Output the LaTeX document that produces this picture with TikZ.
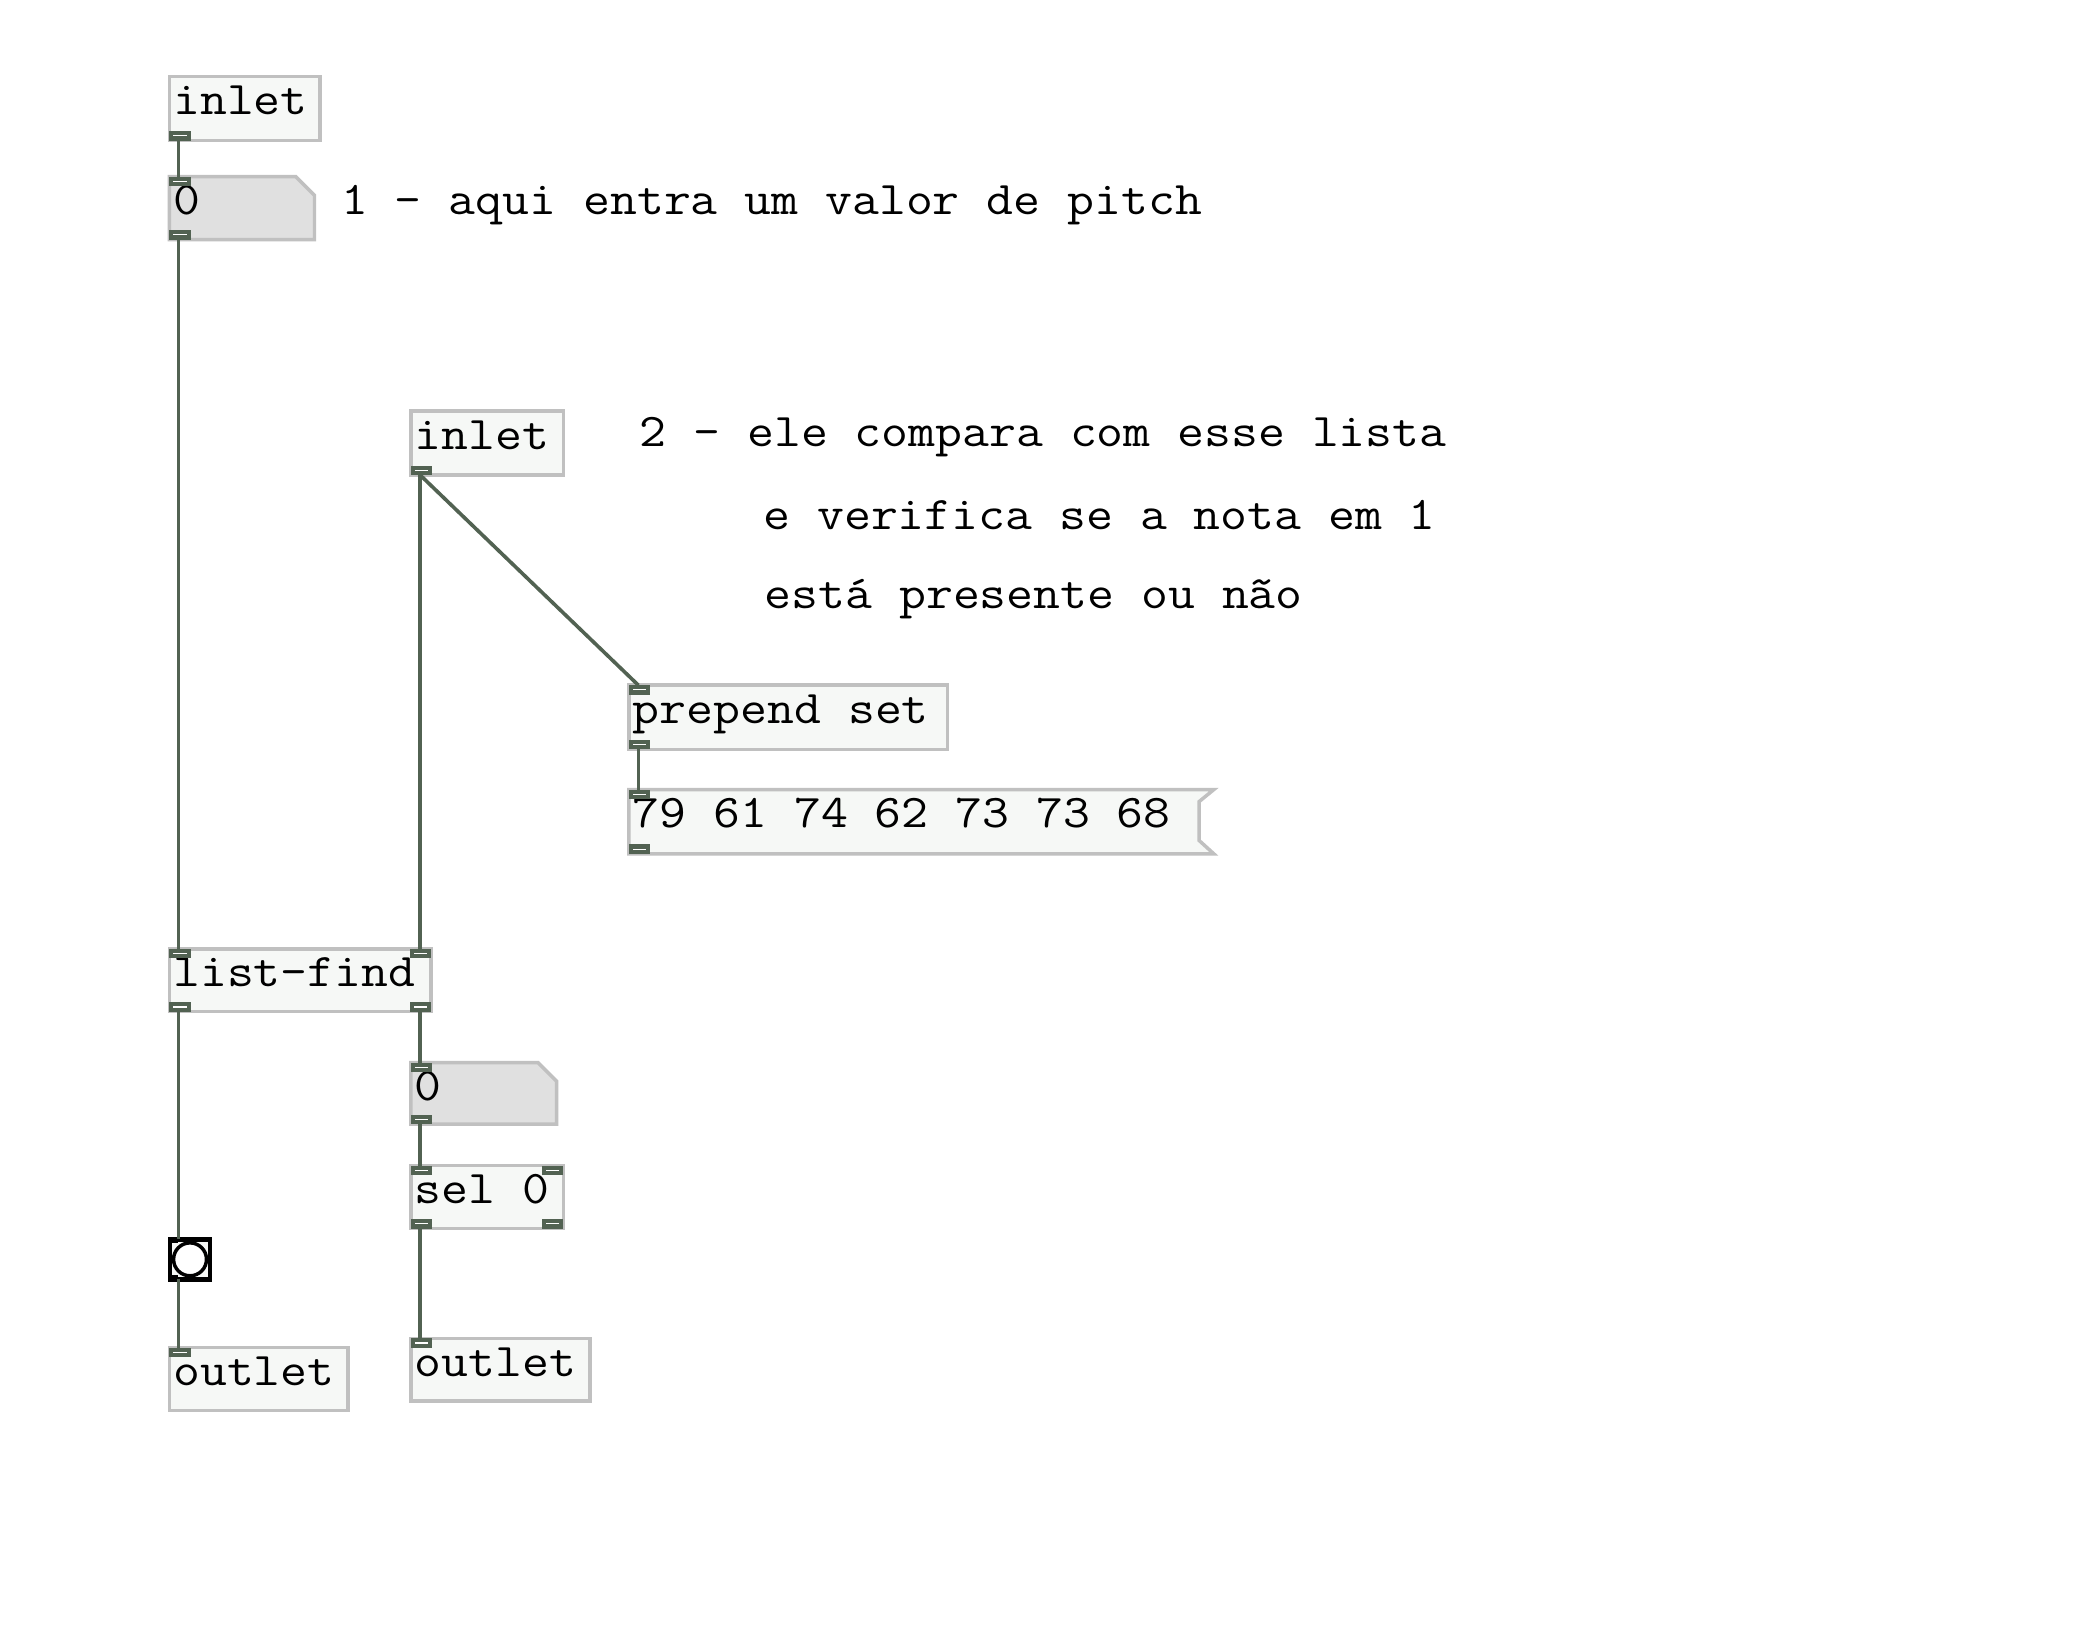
\documentclass[tikz,border=0pt]{standalone}
\usepackage{fontspec}
\usepackage{graphicx}
\usetikzlibrary{calc,fit}
\definecolor{wire}{HTML}{526252}
\definecolor{bord}{HTML}{C0C0C0}
\definecolor{objfill}{HTML}{F6F8F6}
\definecolor{numfill}{HTML}{E0E0E0}
\newcommand\pdtxt[1]{\scalebox{1.115}[1]{#1}}
\tikzset{
  pdtext/.style={anchor=base west, inner sep=0pt, outer sep=0pt, font=\ttfamily\fontsize{17.5pt}{20pt}\selectfont},
  objbox/.style={draw=bord, fill=objfill, line width=1.3pt, inner sep=0pt, outer sep=0pt, rectangle},
  hidbox/.style={inner sep=0pt, outer sep=0pt, rectangle},
  shapeline/.style={draw=bord, line width=1.3pt, line join=miter},
  wirel/.style={draw=wire, line width=1.35pt},
  nubfill/.style={fill=wire},
  nubline/.style={draw=white, line width=0.45pt},
}
% nub at a corner point: #1 = point, #2 = +1 for top (down), -1 for bottom (up), #3 = +1 left, -1 right
\newcommand\pdnub[3]{%
  \fill[nubfill] ($#1$) rectangle ++(#3*16,#2*7);
  \draw[nubline] ($#1+(#3*3,#2*3.5)$) -- ++(#3*10,0);
}
\begin{document}
\begin{tikzpicture}[x=0.5pt,y=-0.5pt]
\fill[white] (0,0) rectangle (1561,1228.5);
\useasboundingbox (0,0) rectangle (1561,1228.5);

% ---------- boxes ----------
% inlet A
\node[objbox, fit={(126.5,57)(239,105)}] (inA) {};
\node[pdtext] (inAt) at (129.5,85.5) {\pdtxt{inlet}};
% number A
\node[hidbox, fit={(126.5,132)(235,179)}] (numA) {};
\draw[shapeline, fill=numfill] (numA.north west) -- ($(numA.north east)+(-14,0)$) -- ($(numA.north east)+(0,14)$) -- (numA.south east) -- (numA.south west) -- cycle;
\node[pdtext] (numAt) at (129.5,160.5) {\pdtxt{0}};
% comment 1
\node[pdtext] (c1) at (255,160.5) {\pdtxt{1 - aqui entra um valor de pitch}};
% inlet B
\node[objbox, fit={(307,307)(421,355)}] (inB) {};
\node[pdtext] (inBt) at (310,335.5) {\pdtxt{inlet}};
% comment 2
\node[pdtext] (c2a) at (478,333.5) {\pdtxt{2 - ele compara com esse lista}};
\node[pdtext] (c2b) at (570.5,395.5) {\pdtxt{e verifica se a nota em 1}};
\node[pdtext] (c2c) at (571.5,454.5) {\pdtxt{está presente ou não}};
% prepend set
\node[objbox, fit={(470,512)(708,560)}] (prep) {};
\node[pdtext] (prept) at (473,540.5) {\pdtxt{prepend set}};
% message
\node[hidbox, fit={(470,590)(907,638)}] (msg) {};
\draw[shapeline, fill=objfill] (msg.north west) -- (msg.north east) -- ($(msg.north east)+(-11,9)$) -- ($(msg.south east)+(-11,-10)$) -- (msg.south east) -- (msg.south west) -- cycle;
\node[pdtext] (msgt) at (473,618.5) {\pdtxt{79 61 74 62 73 73 68}};
% list-find
\node[objbox, fit={(126.5,709)(322,756)}] (lf) {};
\node[pdtext] (lft) at (129.5,737) {\pdtxt{list-find}};
% number B
\node[hidbox, fit={(307,794)(416,840)}] (numB) {};
\draw[shapeline, fill=numfill] (numB.north west) -- ($(numB.north east)+(-14,0)$) -- ($(numB.north east)+(0,14)$) -- (numB.south east) -- (numB.south west) -- cycle;
\node[pdtext] (numBt) at (310,822.5) {\pdtxt{0}};
% sel 0
\node[objbox, fit={(307,871)(421,918)}] (sel) {};
\node[pdtext] (selt) at (310,899.5) {\pdtxt{sel 0}};
% bang
\node[draw=black, fill=objfill, line width=1.7pt, inner sep=0pt, outer sep=0pt, fit={(127,926)(157,956)}] (bang) {};
\draw[black, line width=1.3pt, fill=white] (bang.center) circle[radius=12.3];
\fill[black] (bang.north west) rectangle ++(6,3);
\fill[black] (bang.south west) rectangle ++(6,-3);
% outlets
\node[objbox, fit={(126.5,1007)(260,1054)}] (outA) {};
\node[pdtext] (outAt) at (129.5,1035.5) {\pdtxt{outlet}};
\node[objbox, fit={(307,1000)(441,1047)}] (outB) {};
\node[pdtext] (outBt) at (310,1028.5) {\pdtxt{outlet}};

% ---------- nubs ----------
\pdnub{(inA.south west)}{-1}{1}
\pdnub{(numA.north west)}{1}{1}
\pdnub{(numA.south west)}{-1}{1}
\pdnub{(inB.south west)}{-1}{1}
\pdnub{(prep.north west)}{1}{1}
\pdnub{(prep.south west)}{-1}{1}
\pdnub{(msg.north west)}{1}{1}
\pdnub{(msg.south west)}{-1}{1}
\pdnub{(lf.north west)}{1}{1}
\pdnub{(lf.north east)}{1}{-1}
\pdnub{(lf.south west)}{-1}{1}
\pdnub{(lf.south east)}{-1}{-1}
\pdnub{(numB.north west)}{1}{1}
\pdnub{(numB.south west)}{-1}{1}
\pdnub{(sel.north west)}{1}{1}
\pdnub{(sel.north east)}{1}{-1}
\pdnub{(sel.south west)}{-1}{1}
\pdnub{(sel.south east)}{-1}{-1}
\pdnub{(outA.north west)}{1}{1}
\pdnub{(outB.north west)}{1}{1}

% ---------- ports ----------
\coordinate (inA-o) at ($(inA.south west)+(7,0)$);
\coordinate (numA-i) at ($(numA.north west)+(7,0)$);
\coordinate (numA-o) at ($(numA.south west)+(7,0)$);
\coordinate (inB-o) at ($(inB.south west)+(7,0)$);
\coordinate (prep-i) at ($(prep.north west)+(7,0)$);
\coordinate (prep-o) at ($(prep.south west)+(7,0)$);
\coordinate (msg-i) at ($(msg.north west)+(7,0)$);
\coordinate (lf-i0) at ($(lf.north west)+(7,0)$);
\coordinate (lf-i1) at ($(lf.north east)+(-8,0)$);
\coordinate (lf-o0) at ($(lf.south west)+(7,0)$);
\coordinate (lf-o1) at ($(lf.south east)+(-8,0)$);
\coordinate (numB-i) at ($(numB.north west)+(7,0)$);
\coordinate (numB-o) at ($(numB.south west)+(7,0)$);
\coordinate (sel-i0) at ($(sel.north west)+(7,0)$);
\coordinate (sel-o0) at ($(sel.south west)+(7,0)$);
\coordinate (bang-i) at ($(bang.north west)+(6.5,0)$);
\coordinate (bang-o) at ($(bang.south west)+(6.5,0)$);
\coordinate (outA-i) at ($(outA.north west)+(7,0)$);
\coordinate (outB-i) at ($(outB.north west)+(7,0)$);

% ---------- wires ----------
\draw[wirel] (inA-o) -- (numA-i);
\draw[wirel] (numA-o) -- (lf-i0);
\draw[wirel] (inB-o) -- (lf-i1);
\draw[wirel] (inB-o) -- (prep-i);
\draw[wirel] (prep-o) -- (msg-i);
\draw[wirel] (lf-o0) -- (bang-i);
\draw[wirel] (bang-o) -- (outA-i);
\draw[wirel] (lf-o1) -- (numB-i);
\draw[wirel] (numB-o) -- (sel-i0);
\draw[wirel] (sel-o0) -- (outB-i);
\end{tikzpicture}
\end{document}
